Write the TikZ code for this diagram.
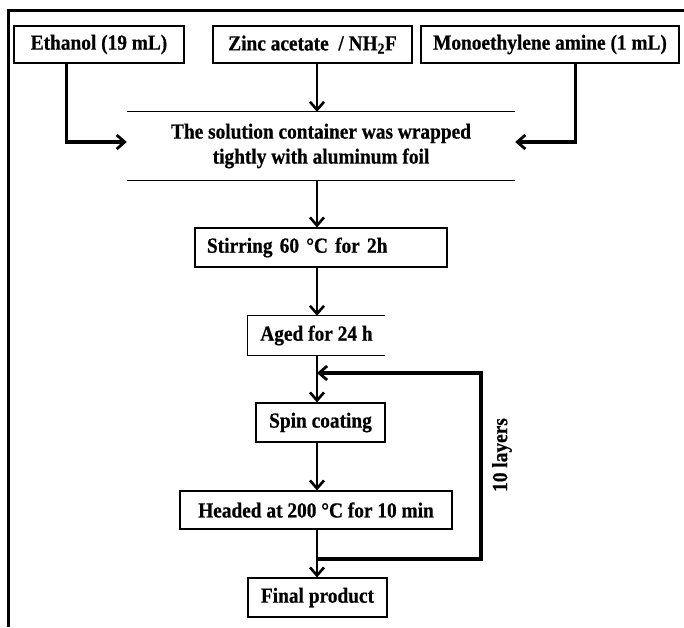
\documentclass[tikz,border=0pt]{standalone}
\usepackage{fontspec}
\setmainfont{Liberation Serif}
\newfontfamily\tallbold[FakeStretch=0.9,FakeBold=0.6]{Liberation Serif Bold}
\usetikzlibrary{arrows.meta,calc}
\tikzset{
  box/.style={draw=black, line width=1.2pt, inner sep=0pt, minimum height=37pt, font=\tallbold\fontsize{21.5}{25}\selectfont},
  plain/.style={inner sep=0pt, font=\tallbold\fontsize{21.5}{25}\selectfont},
  arr/.style={line width=2.6pt, -{Straight Barb[length=8pt,width=14pt,line width=2.6pt]}},
  heavyarr/.style={line width=3.2pt, -{Straight Barb[length=8pt,width=14pt,line width=2.8pt]}},
  frame/.style={line width=3pt}
}
\begin{document}
\begin{tikzpicture}[x=1pt,y=-1pt]
\useasboundingbox (0,0) rectangle (684,627);
% outer frame (left and top sides visible)
\coordinate (f1) at (8,627);
\coordinate (f2) at (8,10);
\coordinate (f3) at (684,10);
\draw[frame] (f1) -- (f2) -- (f3);
% axis
\coordinate (axis) at (317,0);
% top boxes
\node[box, minimum width=170pt] (eth) at (99,44.5) {Ethanol (19 mL)};
\node[box, minimum width=199pt] (zinc) at (312.5,44.5) {Zinc acetate\ \ / NH\textsubscript{2}F};
\node[box, minimum width=258pt] (mono) at (550,44.5) {Monoethylene amine (1 mL)};
% solution block
\node[plain, minimum width=388pt, minimum height=68pt, align=center] (sol) at (321,146)
  {The solution container was wrapped\\tightly with aluminum foil};
\draw[line width=1.2pt] (sol.north west) -- (sol.north east);
\draw[line width=1.2pt] (sol.south west) -- (sol.south east);
% steps
\node[box, text width=228pt, inner xsep=12pt, align=left, minimum height=39pt] (stir) at (321,247.5) {Stirring 60 °C for 2h};
\node[plain, minimum width=137pt, minimum height=39pt] (aged) at (316.5,335.5) {Aged for 24 h};
\draw[line width=1.2pt] (aged.north east) -- (aged.north west) -- (aged.south west) -- (aged.south east);
\node[box, minimum width=129pt, minimum height=39pt] (spin) at (320.5,422.5) {Spin coating};
\node[box, minimum width=272pt, minimum height=38pt] (head) at (316,510) {Headed at 200 °C for 10 min};
\node[box, minimum width=139pt, minimum height=39pt] (final) at (317.5,597.5) {Final product};
\node[plain, rotate=90] (layers) at (502,455) {10 layers};
% connectors from top boxes
\draw[heavyarr] ([xshift=53pt]eth.south west) |- ([yshift=4pt]sol.west);
\draw[heavyarr] ([xshift=-104pt]mono.south east) |- ([yshift=4pt]sol.east);
\draw[arr] (zinc.south -| axis) -- (sol.north -| axis);
% main chain
\draw[arr] (sol.south -| axis) -- (stir.north -| axis);
\draw[arr] (stir.south -| axis) -- (aged.north -| axis);
\draw[arr] (aged.south -| axis) -- (spin.north -| axis);
\draw[arr] (spin.south -| axis) -- (head.north -| axis);
\draw[arr] (head.south -| axis) -- (final.north -| axis);
% loop
\coordinate (lb) at (317,559);
\coordinate (lr) at (481,0);
\coordinate (lt) at (317,373);
\draw[heavyarr] (lb) -- (lb -| lr) -- (lt -| lr) -- (lt);
\end{tikzpicture}
\end{document}
